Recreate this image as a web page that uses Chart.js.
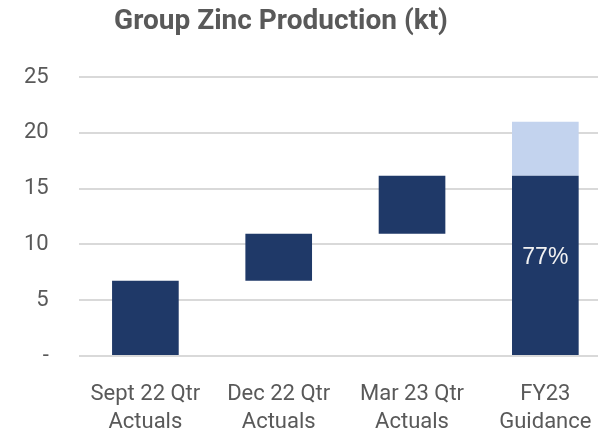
<!DOCTYPE html>
<html>
<head>
<meta charset="utf-8">
<script src="https://cdn.jsdelivr.net/npm/chart.js@4/dist/chart.umd.min.js"></script>
<style>
	html, body { margin: 0; padding: 0; background: #fff; overflow: hidden; }
	#wrap { width: 620px; height: 430px; }
</style>
</head>
<body>
<div id="wrap"><canvas id="chart-zinc" width="620" height="430"></canvas></div>
<script>
// data
var categories = [['Sept 22 Qtr', 'Actuals'], ['Dec 22 Qtr', 'Actuals'], ['Mar 23 Qtr', 'Actuals'], ['FY23', 'Guidance']];
var quarterActuals = [6.75, 4.2, 5.2];
var fyGuidance = 21;
var yTicks = [0, 5, 10, 15, 20, 25];

var darkBlue = '#1f3968';
var lightBlue = '#c3d3ee';
var textGrey = '#595959';

var app = (function(){
	var chart;

	function init(){
		_createChart();
	}

	function _buildData(){
		// waterfall steps, then year to date against guidance
		var steps = [], total = 0;
		quarterActuals.forEach(function(v){
			steps.push([total, total + v]);
			total += v;
		});
		steps.push([0, total]);
		var remaining = [null, null, null, [total, fyGuidance]];
		return { steps: steps, remaining: remaining, ytd: total };
	}

	function _createChart(){
		if(chart !== undefined){
			chart.destroy();
		}
		var d = _buildData();

		var titlePlugin = {
			id: 'fixedTitle',
			afterDraw: function(c){
				var ctx = c.ctx;
				ctx.save();
				ctx.font = 'bold 28px Roboto';
				ctx.fillStyle = textGrey;
				ctx.textAlign = 'center';
				ctx.textBaseline = 'middle';
				ctx.fillText('Group Zinc Production (kt)', 281, 22);
				ctx.restore();
			}
		};

		var pctPlugin = {
			id: 'pctLabel',
			afterDatasetsDraw: function(c){
				var meta = c.getDatasetMeta(0);
				var bar = meta.data[3];
				var y = c.scales.y;
				var ctx = c.ctx;
				ctx.save();
				ctx.font = '23px "Liberation Sans"';
				ctx.fillStyle = '#f2f2f2';
				ctx.textAlign = 'center';
				ctx.textBaseline = 'middle';
				ctx.fillText(Math.round(d.ytd / fyGuidance * 100) + '%', bar.x, y.getPixelForValue(d.ytd * 0.545));
				ctx.restore();
			}
		};

		var ctx = document.getElementById('chart-zinc');
		chart = new Chart(ctx, {
			type: 'bar',
			data: {
				labels: categories,
				datasets: [{
					data: d.steps,
					backgroundColor: darkBlue,
					borderWidth: 0
				}, {
					data: d.remaining,
					backgroundColor: lightBlue,
					borderWidth: 0
				}]
			},
			options: {
				responsive: false,
				animation: false,
				layout: {
					padding: { top: 77, left: -6, right: 8, bottom: -22 }
				},
				datasets: {
					bar: { categoryPercentage: 1, barPercentage: 0.5 }
				},
				plugins: {
					legend: { display: false },
					title: { display: false },
					tooltip: { enabled: false }
				},
				scales: {
					x: {
						stacked: true,
						grid: { display: false },
						border: { display: false },
						ticks: {
							color: textGrey,
							font: { family: 'Roboto', size: 22, lineHeight: 1.27 },
							padding: 16,
							maxRotation: 0,
							autoSkip: false
						}
					},
					y: {
						min: 0,
						max: 25,
						afterBuildTicks: function(axis){
							axis.ticks = yTicks.map(function(v){ return { value: v }; });
						},
						grid: { color: '#d9d9d9', lineWidth: 2, drawTicks: false },
						border: { display: false },
						ticks: {
							color: textGrey,
							font: { family: 'Roboto', size: 22 },
							padding: 30,
							callback: function(v){ return v === 0 ? '-' : v; }
						}
					}
				}
			},
			plugins: [titlePlugin, pctPlugin]
		});
	}

	return { init: init };
})();

app.init();
</script>
</body>
</html>
